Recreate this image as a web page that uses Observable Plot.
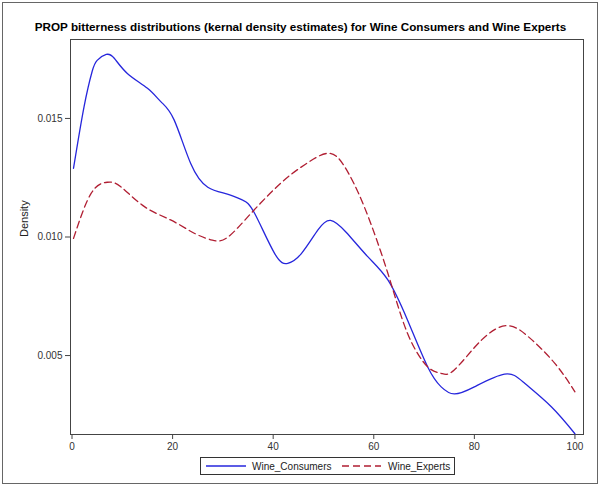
<!DOCTYPE html>
<html><head><meta charset="utf-8">
<script src="https://cdn.jsdelivr.net/npm/d3@7"></script>
<script src="https://cdn.jsdelivr.net/npm/@observablehq/plot@0.6"></script>
<style>
body{margin:0;background:#fff;font-family:Arial,"Liberation Sans",sans-serif;}
#outer{position:absolute;left:2px;top:2px;width:594px;height:480px;border:1px solid #666;}
#title{position:absolute;left:0;top:20px;width:601px;text-align:center;font-weight:bold;font-size:11.7px;color:#000;}
#chart{position:absolute;left:0;top:0;}
#legend{position:absolute;left:200px;top:457px;width:253px;height:16px;border:1px solid #333;background:#fff;}
</style></head><body>
<div id="outer"></div>
<div id="chart"></div>
<div id="title">PROP bitterness distributions (kernal density estimates) for Wine Consumers and Wine Experts</div>
<div id="legend"></div>
<script>
const consumersX = [0.3,2.4,4.0,5.0,6.8,8.4,11.0,15.0,17.7,20.3,23.6,27.0,30.9,33.9,36.3,40.3,42.9,45.6,48.9,51.4,54.5,58.8,62.8,66.7,70.7,73.4,76.0,80.0,86.0,90.0,95.3,100];
const consumersY = [0.0129,0.0155,0.01698,0.01745,0.0177,0.01754,0.0169,0.01627,0.0157,0.01494,0.0131,0.0121,0.01181,0.01156,0.0110,0.0093,0.00889,0.0093,0.0103,0.0107,0.0102,0.00917,0.00819,0.0065,0.00453,0.00368,0.00338,0.00368,0.00422,0.00383,0.00284,0.0017];
const expertsX = [0.3,3.8,7.0,9.7,14.4,19.6,24.3,27.9,30.9,35.6,41.5,46.2,50.8,54.1,58.1,62.8,66.7,70.7,73.4,76.0,81.4,86.4,90.7,96.0,100];
const expertsY = [0.00994,0.01184,0.01231,0.01212,0.01128,0.01072,0.01016,0.00987,0.00998,0.0110,0.01227,0.01304,0.01353,0.01300,0.01128,0.00847,0.00594,0.00453,0.00425,0.00439,0.00565,0.00626,0.0058,0.00467,0.00347];
const xTicks = [0,20,40,60,80,100];
const yTicks = [0.005,0.010,0.015];
const seriesNames = ["Wine_Consumers","Wine_Experts"];

const consumers = consumersX.map((x,i)=>({x, y: consumersY[i]}));
const experts = expertsX.map((x,i)=>({x, y: expertsY[i]}));
const blue = "#2626dc", red = "#b01e32";

const plot = Plot.plot({
  width: 601, height: 460,
  marginTop: 39, marginBottom: 26, marginLeft: 70, marginRight: 18,
  style: {fontFamily: 'Arial, "Liberation Sans", sans-serif', fontSize: "10px", color: "#333", background: "transparent"},
  x: {domain: [-0.3, 101.7], ticks: xTicks, tickSize: 5, tickFormat: d3.format("d"), label: null},
  y: {domain: [0.00167, 0.01833], ticks: yTicks, tickSize: 5, tickFormat: d3.format(".3f"), label: null},
  marks: [
    Plot.frame({stroke: "#444"}),
    Plot.axisX({ticks: xTicks, tickSize: 5, tickPadding: 3, tickFormat: d3.format("d"), label: null, stroke: "#444"}),
    Plot.axisY({ticks: yTicks, tickSize: 5, tickPadding: 3, tickFormat: d3.format(".3f"), label: null, stroke: "#444"}),
    Plot.text(["Density"], {frameAnchor: "left", dx: -46, rotate: -90, fontSize: 11, fill: "#222"}),
    Plot.line(consumers, {x: "x", y: "y", stroke: blue, strokeWidth: 1.3, curve: "natural"}),
    Plot.line(experts, {x: "x", y: "y", stroke: red, strokeWidth: 1.3, strokeDasharray: "7,4", curve: "natural"})
  ]
});
document.getElementById("chart").appendChild(plot);

const leg = document.getElementById("legend");
leg.innerHTML = `<svg width="253" height="16" style="position:absolute;left:0;top:0">
<line x1="5" x2="45" y1="8" y2="8" stroke="${blue}" stroke-width="1.5"/>
<text x="51" y="12" font-size="10" fill="#222" font-family="Arial, Liberation Sans, sans-serif">${seriesNames[0]}</text>
<line x1="141" x2="180" y1="8" y2="8" stroke="${red}" stroke-width="1.5" stroke-dasharray="7,4"/>
<text x="187" y="12" font-size="10" fill="#222" font-family="Arial, Liberation Sans, sans-serif">${seriesNames[1]}</text>
</svg>`;
</script>
</body></html>
